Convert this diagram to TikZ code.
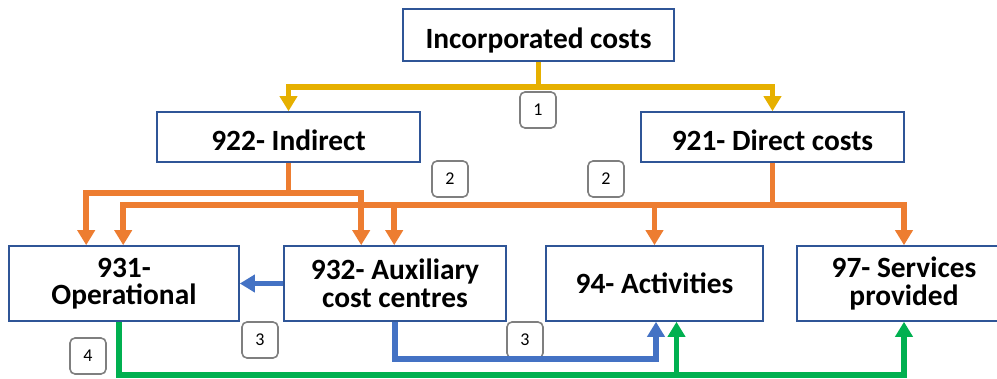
\documentclass[tikz,border=0pt]{standalone}
\usepackage{fontspec}
\setmainfont{Carlito}
\usetikzlibrary{arrows.meta}
\definecolor{boxblue}{HTML}{2F5597}
\definecolor{numgray}{HTML}{7F7F7F}
\definecolor{yel}{HTML}{E6B000}
\definecolor{org}{HTML}{ED7D31}
\definecolor{blu}{HTML}{4472C4}
\definecolor{grn}{HTML}{00B050}
\begin{document}
\begin{tikzpicture}[x=1pt, y=-1pt, >={Triangle[width=17pt,length=15pt]},
	acct/.style={draw=boxblue, line width=1.6pt, fill=white, align=center, inner sep=0pt, font=\bfseries\fontsize{29.4}{27.5}\selectfont},
	topacct/.style={acct, text height=26.5pt, text depth=0pt},
	numbox/.style={draw=numgray, line width=1.6pt, rounded corners=5pt, minimum size=36pt, inner sep=0pt, font=\fontsize{18}{20}\selectfont},
	flow/.style={line width=5.5pt, ->}]
	\useasboundingbox (0,0) rectangle (997,378);
	% cost boxes
	\node[topacct, minimum width=271pt, minimum height=52pt] (inc) at (538.5,35) {Incorporated costs};
	\node[topacct, minimum width=263pt, minimum height=50pt] (ind) at (288.5,137) {922- Indirect};
	\node[topacct, minimum width=263pt, minimum height=50pt] (dir) at (772.5,137) {921- Direct costs};
	\node[acct, minimum width=230pt, minimum height=75pt] (op) at (124,283.5) {931-\\Operational};
	\node[acct, minimum width=222pt, minimum height=75pt] (aux) at (395,283.5) {932- Auxiliary\\cost centres};
	\node[acct, minimum width=217pt, minimum height=75pt] (act) at (654.5,283.5) {94- Activities};
	\node[acct, minimum width=214pt, minimum height=75pt] (serv) at (904,283.5) {97- Services\\provided};
	% step numbers
	\foreach \nm/\x/\y/\t in {n1/538/110/1, n2a/450/179/2, n2b/606/179/2, n3a/260/340/3, n3b/525/340/3, n4/88/356/4}{
		\node[numbox] (\nm) at (\x,\y) {\t};
	}
	% 1
	\draw[flow, yel] (inc.south) -- ++(0,25) coordinate (y1) -| (ind.north);
	\draw[flow, yel] (y1) -| (dir.north);
	% 2
	\draw[flow, org] (ind.south) -- ++(0,30) coordinate (o1) -| ([xshift=78pt]op.north west);
	\draw[flow, org] (o1) -| ([xshift=78pt]aux.north west);
	\draw[flow, org] (dir.south) -- ++(0,42) coordinate (o2) -| ([xshift=115pt]op.north west);
	\draw[flow, org] (o2) -| ([xshift=111pt]aux.north west);
	\draw[flow, org] (o2) -| (act.north);
	\draw[flow, org] (o2) -| (serv.north);
	% 3
	\draw[flow, blu] (aux.west) -- (op.east);
	\draw[flow, blu] (aux.south) -- ++(0,37) -| ([xshift=1.5pt]act.south);
	% 4
	\coordinate (actg) at ([xshift=22pt]act.south);
	\draw[flow, grn] ([xshift=-5pt]op.south) -- ++(0,53) coordinate (g1) -| (serv.south);
	\draw[flow, grn] (g1 -| actg) -- (actg);
\end{tikzpicture}
\end{document}
